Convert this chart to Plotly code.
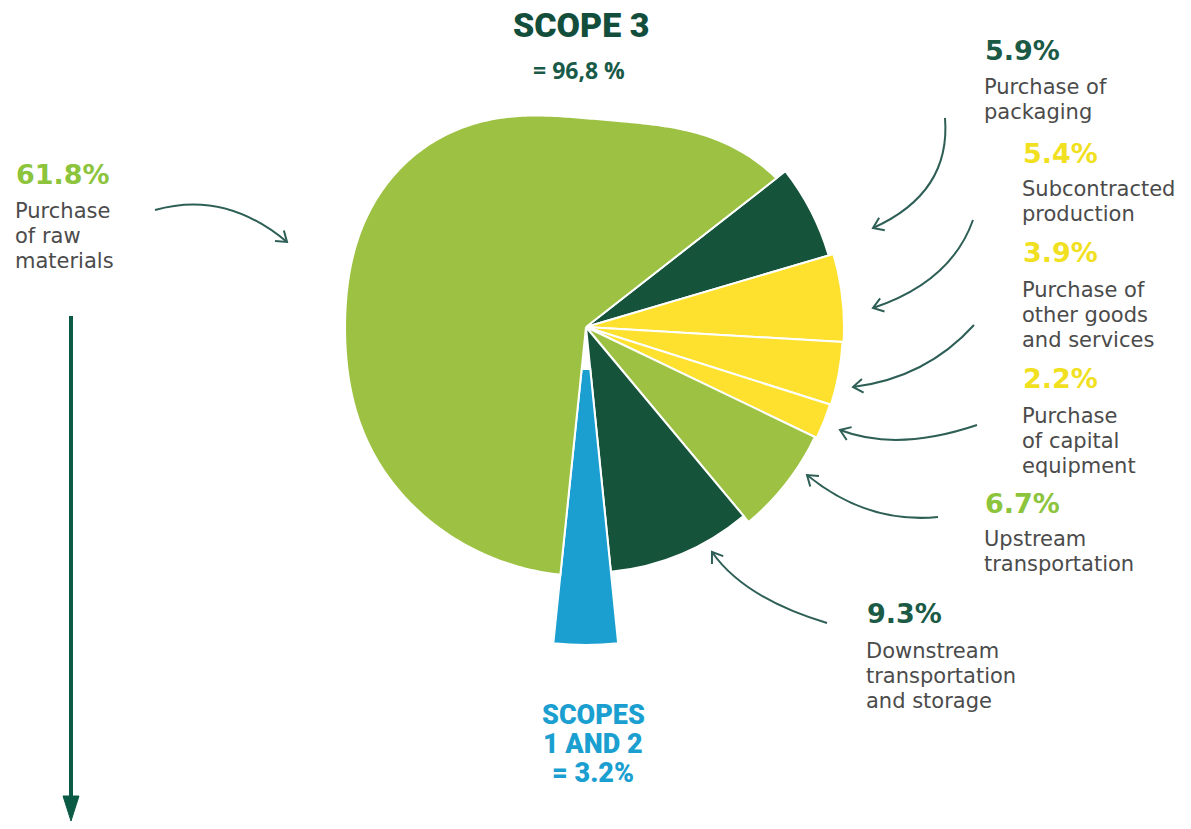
import numpy as np
import plotly.graph_objects as go

W, H = 1191, 829

# ---- data -------------------------------------------------------------
categories = [
    "Purchase of packaging",
    "Subcontracted production",
    "Purchase of other goods and services",
    "Purchase of capital equipment",
    "Upstream transportation",
    "Downstream transportation and storage",
    "Scopes 1 and 2",
    "Purchase of raw materials",
]
values = [5.9, 5.4, 3.9, 2.2, 6.7, 9.3, 3.2, 61.8]
label_lines = [
    ["Purchase of", "packaging"],
    ["Subcontracted", "production"],
    ["Purchase of", "other goods", "and services"],
    ["Purchase", "of capital", "equipment"],
    ["Upstream", "transportation"],
    ["Downstream", "transportation", "and storage"],
    [],
    ["Purchase", "of raw", "materials"],
]
scope3_total = "96,8"

# ---- styling ----------------------------------------------------------
LIGHT = "#9dc243"
DARK = "#15533b"
YELLOW = "#fde12e"
BLUE = "#1a9fd0"
slice_colors = [DARK, YELLOW, YELLOW, YELLOW, LIGHT, DARK, BLUE, LIGHT]
pct_colors = ["#1b5a45", "#f1e01f", "#f1e01f", "#f1e01f", "#8cc43c", "#1b5a45", BLUE, "#8cc43c"]
slice_radius = [253, 258, 257, 256, 254, 246, 318, None]
slice_base = [0, 0, 0, 0, 0, 0, 42, 0]
START_ANGLE = 52.0          # clockwise from 12 o'clock
CX, CY, RMAX = 586, 327, 322  # pie centre and radial extent in pixels
ARROW = "#2e5f56"
TEXT = "#4b4b4b"

def fx(x):
    return x / W

def fy(y):
    return 1 - y / H

# slice angles from the values
total = sum(values)
spans = [360.0 * v / total for v in values]
starts = START_ANGLE + np.concatenate([[0], np.cumsum(spans)[:-1]])
centers = starts + np.array(spans) / 2

fig = go.Figure()

# constant-radius wedges
idx = [i for i in range(len(values)) if slice_radius[i] is not None]
fig.add_trace(go.Barpolar(
    theta=[centers[i] for i in idx],
    width=[spans[i] for i in idx],
    r=[slice_radius[i] - slice_base[i] for i in idx],
    base=[slice_base[i] for i in idx],
    marker=dict(color=[slice_colors[i] for i in idx], line=dict(color="white", width=2)),
    hovertext=[categories[i] for i in idx],
    showlegend=False,
))

# the large raw-materials slice has a soft, rounded outline
def outline_radius(theta):
    def bump(t, c, s):
        d = (t - c + 180) % 360 - 180
        return np.exp(-(d / s) ** 2)
    return 249 - 41 * bump(theta, 5, 36) - 8 * bump(theta, 270, 25)

i_raw = len(values) - 1
th = np.linspace(starts[i_raw], starts[i_raw] + spans[i_raw], 300)
rr = outline_radius(th % 360)
fig.add_trace(go.Scatterpolar(
    theta=np.concatenate([[starts[i_raw]], th, [starts[i_raw] + spans[i_raw]]]),
    r=np.concatenate([[0], rr, [0]]),
    mode="lines", fill="toself", fillcolor=slice_colors[i_raw],
    line=dict(color="white", width=2),
    hovertext=categories[i_raw], showlegend=False,
))

# ---- labels ------------------------------------------------------------
# (left x, y of percentage, y of first text line) per slice
label_pos = [
    (983, 50, 87),
    (1021, 153, 189),
    (1021, 252, 290),
    (1021, 378, 416),
    (983, 504, 539),
    (865, 613, 651),
    None,
    (14, 174, 211),
]
annotations = []
for i, pos in enumerate(label_pos):
    if pos is None:
        continue
    x, yp, y0 = pos
    annotations.append(dict(
        x=fx(x), y=fy(yp), xref="paper", yref="paper", xanchor="left", yanchor="middle",
        text=f"{values[i]}%", showarrow=False,
        font=dict(family="DejaVu Sans", size=27, color=pct_colors[i], weight="bold"),
    ))
    for k, line in enumerate(label_lines[i]):
        annotations.append(dict(
            x=fx(x), y=fy(y0 + 25 * k), xref="paper", yref="paper", xanchor="left", yanchor="middle",
            text=line, showarrow=False, borderpad=0,
            font=dict(family="DejaVu Sans", size=21, color=TEXT),
        ))

annotations.append(dict(
    x=fx(581), y=fy(25), xref="paper", yref="paper", xanchor="center", yanchor="middle",
    text="SCOPE 3", showarrow=False,
    font=dict(family="Roboto", size=34, color="#124e3b", weight=900),
))
annotations.append(dict(
    x=fx(579), y=fy(70), xref="paper", yref="paper", xanchor="center", yanchor="middle",
    text=f"= {scope3_total} %", showarrow=False,
    font=dict(family="Open Sans", size=23, color="#1a5a48", weight="bold"),
))
for k, line in enumerate(["SCOPES", "1 AND 2", f"= {values[6]}%"]):
    annotations.append(dict(
        x=fx(593), y=fy(715 + 29 * k), xref="paper", yref="paper", xanchor="center", yanchor="middle",
        text=line, showarrow=False, borderpad=0,
        font=dict(family="Roboto", size=27, color=BLUE, weight=900),
    ))

# ---- curved pointer arrows (start, control, end in pixels) ------------
arrows = [
    ((155, 210), (225, 190), (287, 242)),
    ((945, 118), (951, 193), (873, 228)),
    ((973, 220), (951, 282), (873, 308)),
    ((974, 325), (926, 378), (853, 387)),
    ((977, 425), (897, 452), (840, 430)),
    ((938, 517), (867, 524), (807, 475)),
    ((827, 623), (744, 598), (712, 552)),
]
shapes = []
for p0, c, p2 in arrows:
    shapes.append(dict(
        type="path", xref="paper", yref="paper",
        path=f"M {fx(p0[0])},{fy(p0[1])} Q {fx(c[0])},{fy(c[1])} {fx(p2[0])},{fy(p2[1])}",
        line=dict(color=ARROW, width=2),
    ))
    d = np.array(p2, float) - np.array(c, float)
    d /= np.linalg.norm(d)
    arms = []
    for ang in (35, -35):
        a = np.radians(ang)
        rot = np.array([[np.cos(a), -np.sin(a)], [np.sin(a), np.cos(a)]])
        arms.append(np.array(p2) - 12 * rot @ d)
    shapes.append(dict(
        type="path", xref="paper", yref="paper",
        path=(f"M {fx(arms[0][0])},{fy(arms[0][1])} L {fx(p2[0])},{fy(p2[1])} "
              f"L {fx(arms[1][0])},{fy(arms[1][1])}"),
        line=dict(color=ARROW, width=2),
    ))

# long vertical arrow on the left
shapes.append(dict(type="line", xref="paper", yref="paper",
                   x0=fx(71), y0=fy(316), x1=fx(71), y1=fy(800),
                   line=dict(color="#0b5a45", width=4)))
shapes.append(dict(type="path", xref="paper", yref="paper",
                   path=f"M {fx(63)},{fy(796)} L {fx(79)},{fy(796)} L {fx(71)},{fy(821)} Z",
                   fillcolor="#0b5a45", line=dict(color="#0b5a45", width=1)))

fig.update_layout(
    width=W, height=H,
    margin=dict(l=0, r=0, t=0, b=0),
    paper_bgcolor="white",
    plot_bgcolor="white",
    polar=dict(
        domain=dict(x=[fx(CX - RMAX), fx(CX + RMAX)], y=[fy(CY + RMAX), fy(CY - RMAX)]),
        bgcolor="rgba(0,0,0,0)",
        radialaxis=dict(range=[0, RMAX], visible=False),
        angularaxis=dict(rotation=90, direction="clockwise", visible=False),
        bargap=0,
    ),
    annotations=annotations,
    shapes=shapes,
    showlegend=False,
)

fig.write_html("out.html")
